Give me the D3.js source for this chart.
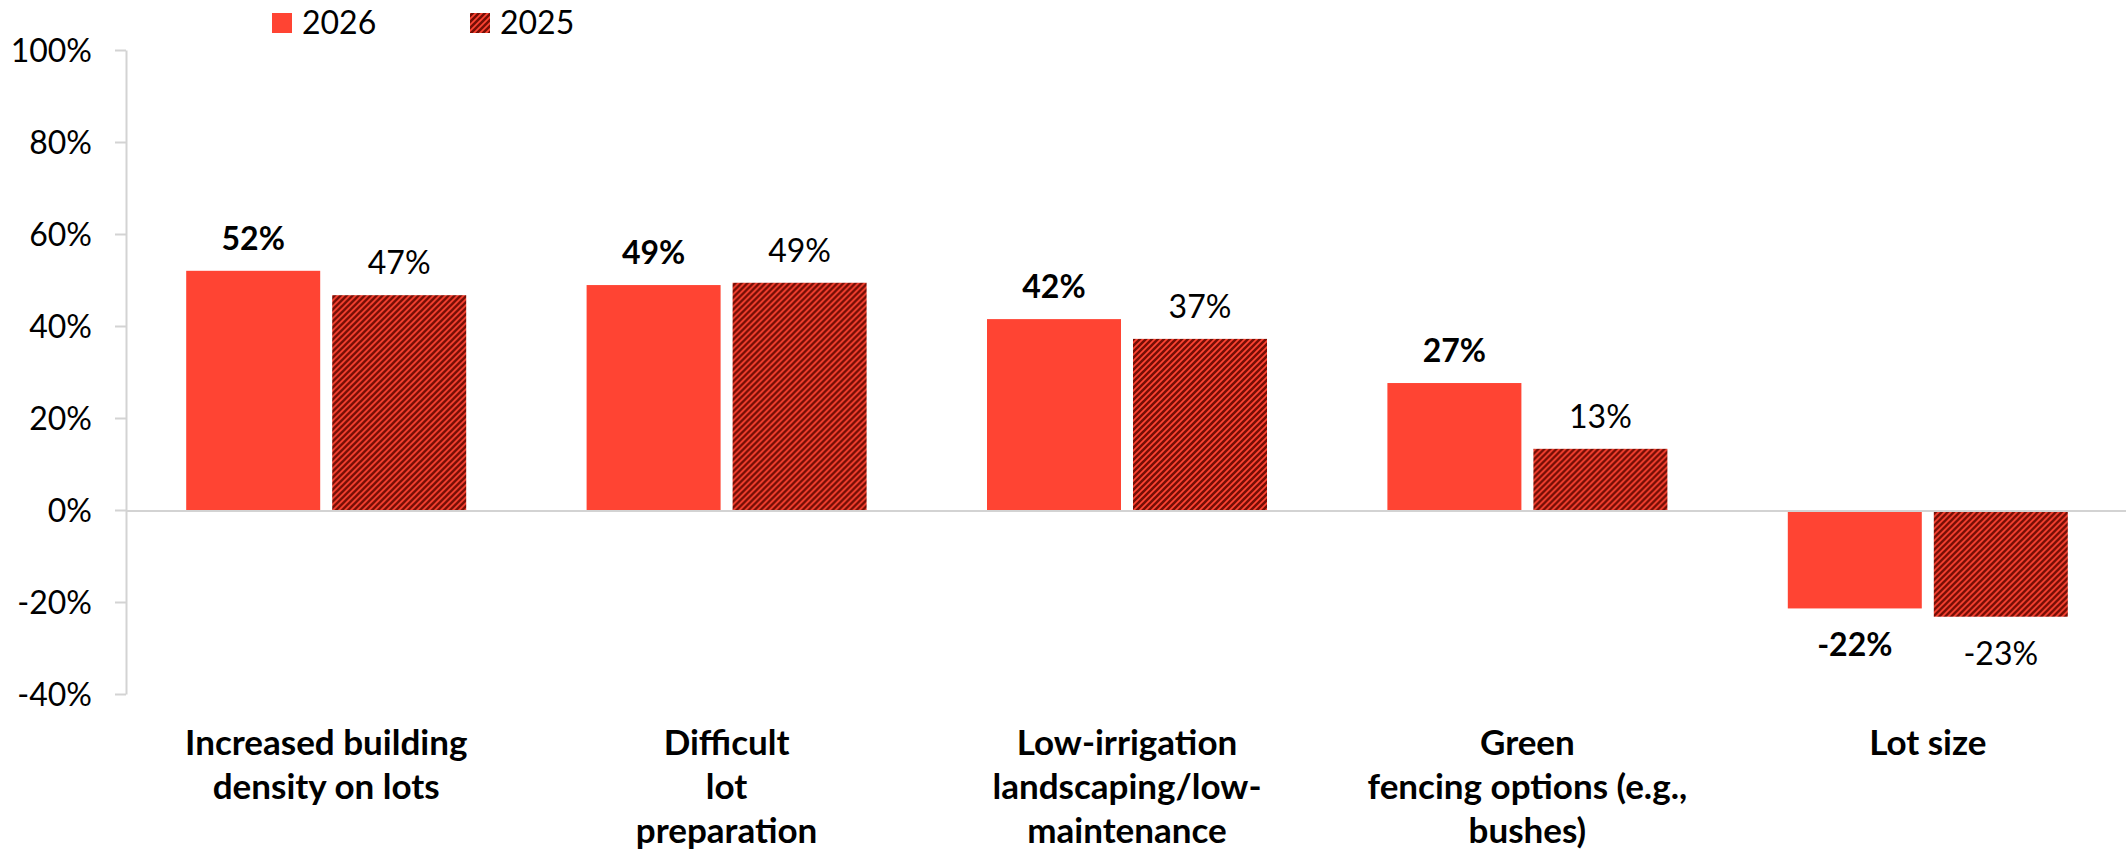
<!DOCTYPE html>
<html>
<head>
<meta charset="utf-8">
<script src="https://cdn.jsdelivr.net/npm/d3@7"></script>
<style>
  html, body { margin: 0; padding: 0; background: #fff; }
  svg { display: block; }
  text { font-family: Lato, "Open Sans", sans-serif; fill: #000; }
</style>
</head>
<body>
<svg id="chart" width="2126" height="855"></svg>
<script>
// ---- data ----
const categories = [
  ["Increased building", "density on lots"],
  ["Difficult", "lot", "preparation"],
  ["Low-irrigation", "landscaping/low-", "maintenance"],
  ["Green", "fencing options (e.g.,", "bushes)"],
  ["Lot size"]
];
const seriesNames = ["2026", "2025"];
const values2026 = [52.0, 48.9, 41.5, 27.6, -21.4];
const values2025 = [46.7, 49.4, 37.2, 13.3, -23.2];
const labels2026 = ["52%", "49%", "42%", "27%", "-22%"];
const labels2025 = ["47%", "49%", "37%", "13%", "-23%"];
const yTicks = [-40, -20, 0, 20, 40, 60, 80, 100];

// ---- layout ----
const W = 2126, H = 855;
const plotLeft = 126, plotRight = 2128;
const plotTop = 50, plotBottom = 694;
const RED = "#FF4433", DARK = "#760E05", GRID = "#d3d3d3";

const svg = d3.select("#chart");
const defs = svg.append("defs");
const pat = defs.append("pattern")
  .attr("id", "hatch").attr("patternUnits", "userSpaceOnUse")
  .attr("width", 6).attr("height", 6);
pat.append("rect").attr("width", 6).attr("height", 6).attr("fill", RED);
pat.append("path")
  .attr("d", "M-1,1 L1,-1 M0,6 L6,0 M5,7 L7,5")
  .attr("stroke", DARK).attr("stroke-width", 2.6);

const catIdx = d3.range(categories.length);
const x = d3.scaleBand().domain(catIdx).range([plotLeft, plotRight]).padding(0);
const xi = d3.scaleBand().domain(seriesNames).range([0, 280]).paddingInner(12 / 146).paddingOuter(0);
const y = d3.scaleLinear().domain([-40, 100]).range([plotBottom, plotTop]);

// y axis
const yAxis = d3.axisLeft(y).tickValues(yTicks).tickFormat(d => d + "%")
  .tickSize(11).tickSizeOuter(0).tickPadding(23);
const gy = svg.append("g").attr("transform", `translate(${plotLeft},0)`).call(yAxis);
gy.select(".domain").attr("stroke", GRID).attr("stroke-width", 2);
gy.selectAll(".tick line").attr("stroke", GRID).attr("stroke-width", 2);
gy.selectAll(".tick text").attr("font-size", 32).attr("dy", "0.36em")
  .attr("font-family", "Lato, sans-serif").attr("fill", "#000");

// bars
const groups = svg.append("g").selectAll("g").data(catIdx).join("g")
  .attr("transform", i => `translate(${x(i) + x.bandwidth() / 2 - 140},0)`);

const seriesData = [
  { name: "2026", vals: values2026, labels: labels2026, fill: RED, weight: "bold" },
  { name: "2025", vals: values2025, labels: labels2025, fill: "url(#hatch)", weight: "normal" }
];

seriesData.forEach(s => {
  groups.append("rect")
    .attr("x", xi(s.name))
    .attr("width", xi.bandwidth())
    .attr("y", i => y(Math.max(0, s.vals[i])))
    .attr("height", i => Math.abs(y(s.vals[i]) - y(0)))
    .attr("fill", s.fill);
  groups.append("text")
    .attr("x", xi(s.name) + xi.bandwidth() / 2)
    .attr("y", i => s.vals[i] >= 0 ? y(s.vals[i]) - 21 : y(s.vals[i]) + 48)
    .attr("text-anchor", "middle")
    .attr("font-size", 32)
    .attr("font-weight", s.weight)
    .text(i => s.labels[i]);
});

// zero line
svg.append("line")
  .attr("x1", plotLeft).attr("x2", W)
  .attr("y1", y(0) + 1).attr("y2", y(0) + 1)
  .attr("stroke", GRID).attr("stroke-width", 2);

// category labels
const catG = svg.append("g").selectAll("text").data(catIdx).join("text")
  .attr("text-anchor", "middle")
  .attr("font-size", 35)
  .attr("font-weight", "bold");
catG.each(function (i) {
  const t = d3.select(this);
  categories[i].forEach((line, k) => {
    t.append("tspan")
      .attr("x", x(i) + x.bandwidth() / 2)
      .attr("y", 755 + k * 44)
      .text(line);
  });
});

// legend
const legend = svg.append("g");
const legendItems = [
  { name: seriesNames[0], fill: RED, x: 272 },
  { name: seriesNames[1], fill: "url(#hatch)", x: 470 }
];
legendItems.forEach(it => {
  legend.append("rect").attr("x", it.x).attr("y", 13).attr("width", 20).attr("height", 20).attr("fill", it.fill);
  legend.append("text").attr("x", it.x + 30).attr("y", 34).attr("font-size", 32).text(it.name);
});
</script>
</body>
</html>
